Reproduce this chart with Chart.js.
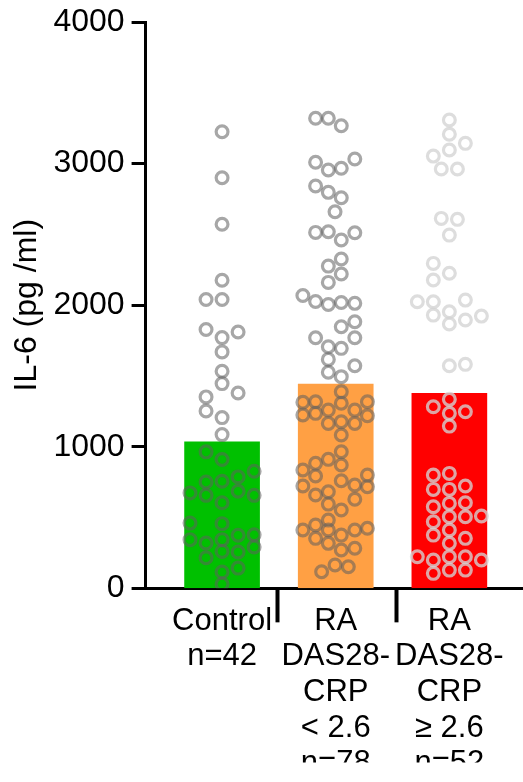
<!DOCTYPE html>
<html>
<head>
<meta charset="utf-8">
<script src="https://cdn.jsdelivr.net/npm/chart.js@4"></script>
<style>
html,body{margin:0;padding:0;background:#fff;overflow:hidden;}
#wrap{width:523px;height:782px;}
canvas{display:block;}
</style>
</head>
<body>
<div id="wrap"><canvas id="c" width="523" height="782"></canvas></div>
<script>
// ---- data ----
const categories = ['Control', 'RA DAS28-CRP < 2.6', 'RA DAS28-CRP \u2265 2.6'];
const tickLabels = [
  ['Control', 'n=42'],
  ['RA', 'DAS28-', 'CRP', '< 2.6', 'n=78'],
  ['RA', 'DAS28-', 'CRP', '\u2265 2.6', 'n=52']
];
const barMeans = [1035, 1443, 1377];
const yTicks = [0, 1000, 2000, 3000, 4000];
const separatorTicks = [0.485, 1.538];

const controlValues = [3225, 2900, 2572, 2176, 2040, 2040, 1828, 1811, 1771, 1670, 1533, 1446, 1380, 1352, 1253, 1206, 1086,
  964, 910, 827, 787, 751, 756, 686, 674, 657, 657, 605, 461, 457, 375, 379, 344, 344, 320, 292, 261, 257, 216, 143, 115, 30];
const controlJitter = [0, 0, 0, 0, -0.141, 0, -0.141, 0.141, 0, 0, 0, 0, 0.141, -0.141, -0.141, 0, 0,
  -0.141, 0, 0.282, 0.141, -0.141, 0, 0.141, -0.282, -0.141, 0.282, 0, -0.282, 0, 0.141, 0.282, -0.282, 0, -0.141, 0.282, 0, 0.141, -0.141, 0.141, 0, 0];

const lowValues = [3320, 3320, 3267, 3009, 2955, 2967, 3032, 2842, 2797, 2759, 2660, 2514, 2519, 2460, 2512, 2326, 2276, 2220, 2161,
  2068, 2026, 2005, 2019, 2013, 1883, 1848, 1770, 1770, 1706, 1695, 1617, 1572, 1526, 1495,
  1389, 1314, 1318, 1307, 1318, 1259, 1259, 1224, 1236, 1219, 1165, 1177, 1165, 1083,
  965, 911, 883, 871, 836, 793, 800, 760, 723, 730, 718, 682, 659, 629, 595, 553, 482, 447, 412, 412, 376, 412, 424,
  353, 318, 283, 271, 165, 153, 117];
const lowJitter = [-0.177, -0.065, 0.049, -0.177, -0.065, 0.049, 0.168, -0.177, -0.065, 0.049, -0.006, -0.177, -0.065, 0.049, 0.168, 0.049, -0.065, 0.049, -0.065,
  -0.289, -0.177, -0.065, 0.049, 0.168, 0.168, 0.049, 0.168, -0.177, -0.065, 0.049, -0.065, 0.168, -0.065, 0.049,
  0.049, -0.289, -0.177, 0.049, 0.279, -0.065, 0.168, -0.289, -0.177, 0.279, -0.065, 0.049, 0.168, 0.049,
  0.049, -0.065, -0.177, 0.049, -0.289, -0.177, 0.279, 0.049, -0.289, 0.168, 0.279, -0.065, -0.177, 0.168, -0.065, 0.049, -0.065, -0.177, -0.289, -0.065, 0.049, 0.168, 0.279,
  -0.177, -0.065, 0.168, 0.049, -0.006, 0.111, -0.124];

const highValues = [3308, 3207, 3143, 3096, 3053, 2962, 2962, 2613, 2606, 2495, 2295, 2225, 2178, 2036, 2024, 2024, 1954, 1930, 1923, 1895, 1867, 1572, 1582,
  1335, 1283, 1247, 1236, 1146,
  223,
  800, 699, 576, 470, 376, 200, 106,
  812, 699, 600, 506, 412, 318, 223, 129,
  723, 605, 506, 353, 223, 129,
  511, 200];
const highJitter = [0, 0, 0.141, 0, -0.141, -0.071, 0.071, -0.071, 0.071, 0, -0.141, 0, -0.141, 0.141, -0.282, -0.141, 0, -0.141, 0.282, 0.141, 0, 0, 0.141,
  0, -0.141, 0.141, 0, 0,
  -0.282,
  -0.141, -0.141, -0.141, -0.141, -0.141, -0.141, -0.141,
  0, 0, 0, 0, 0, 0, 0, 0,
  0.141, 0.141, 0.141, 0.141, 0.141, 0.141,
  0.282, 0.282];

// ---- build ----
const FONT = '"Liberation Sans", Arial, Helvetica, sans-serif';
const groups = [
  {values: controlValues, jitter: controlJitter, color: 'rgba(95,95,95,0.55)'},
  {values: lowValues, jitter: lowJitter, color: 'rgba(95,95,95,0.55)'},
  {values: highValues, jitter: highJitter, color: 'rgba(212,212,212,0.78)'}
];
const scatterSets = groups.map((g, gi) => ({
  type: 'scatter',
  label: categories[gi],
  order: 0,
  xAxisID: 'x', yAxisID: 'y',
  data: g.values.map((v, i) => ({x: gi + g.jitter[i], y: v})),
  pointStyle: 'circle',
  pointRadius: 5.9,
  pointHoverRadius: 5.9,
  pointBorderWidth: 3.2,
  pointBorderColor: g.color,
  pointBackgroundColor: 'rgba(0,0,0,0)',
  showLine: false
}));

const barSet = {
  type: 'bar',
  label: 'Mean',
  order: 1,
  xAxisID: 'x', yAxisID: 'y',
  data: barMeans.map((v, i) => ({x: i, y: v})),
  backgroundColor: ['#00C000', '#FFA044', '#FF0000'],
  borderWidth: 0,
  barThickness: 75
};

new Chart(document.getElementById('c'), {
  type: 'bar',
  data: {datasets: [barSet, ...scatterSets]},
  options: {
    responsive: false,
    animation: false,
    layout: {autoPadding: false, padding: {top: 22, bottom: 19.4, left: 0, right: 0}},
    plugins: {legend: {display: false}, tooltip: {enabled: false}},
    scales: {
      x: {
        type: 'linear',
        position: 'bottom',
        offset: false,
        min: -0.673,
        max: 2.648,
        afterBuildTicks: (ax) => {
          ax.ticks = [0, separatorTicks[0], 1, separatorTicks[1], 2].map(v => ({value: v}));
        },
        ticks: {
          autoSkip: false, maxRotation: 0, minRotation: 0,
          padding: -19,
          color: '#000',
          font: {family: FONT, size: 31, lineHeight: 1.15},
          callback: (v) => Number.isInteger(v) ? tickLabels[v] : ''
        },
        grid: {
          offset: false,
          drawOnChartArea: false, drawTicks: true,
          tickLength: 34, tickWidth: 4,
          tickColor: (ctx) => (ctx.tick && !Number.isInteger(ctx.tick.value)) ? '#000' : 'rgba(0,0,0,0)'
        },
        border: {display: true, color: '#000', width: 3}
      },
      y: {
        type: 'linear',
        min: 0, max: 4000,
        afterBuildTicks: (ax) => { ax.ticks = yTicks.map(v => ({value: v})); },
        ticks: {padding: 7, color: '#000', font: {family: FONT, size: 32, lineHeight: 0.9},
                callback: (v) => String(v)},
        grid: {drawOnChartArea: false, drawTicks: true, tickLength: 14, tickWidth: 3, tickColor: '#000'},
        border: {display: true, color: '#000', width: 3},
        title: {display: true, text: 'IL-6 (pg /ml)', color: '#000',
                font: {family: FONT, size: 32, lineHeight: 1.2}, padding: {top: 8, bottom: 0}}
      }
    }
  }
});
</script>
</body>
</html>
